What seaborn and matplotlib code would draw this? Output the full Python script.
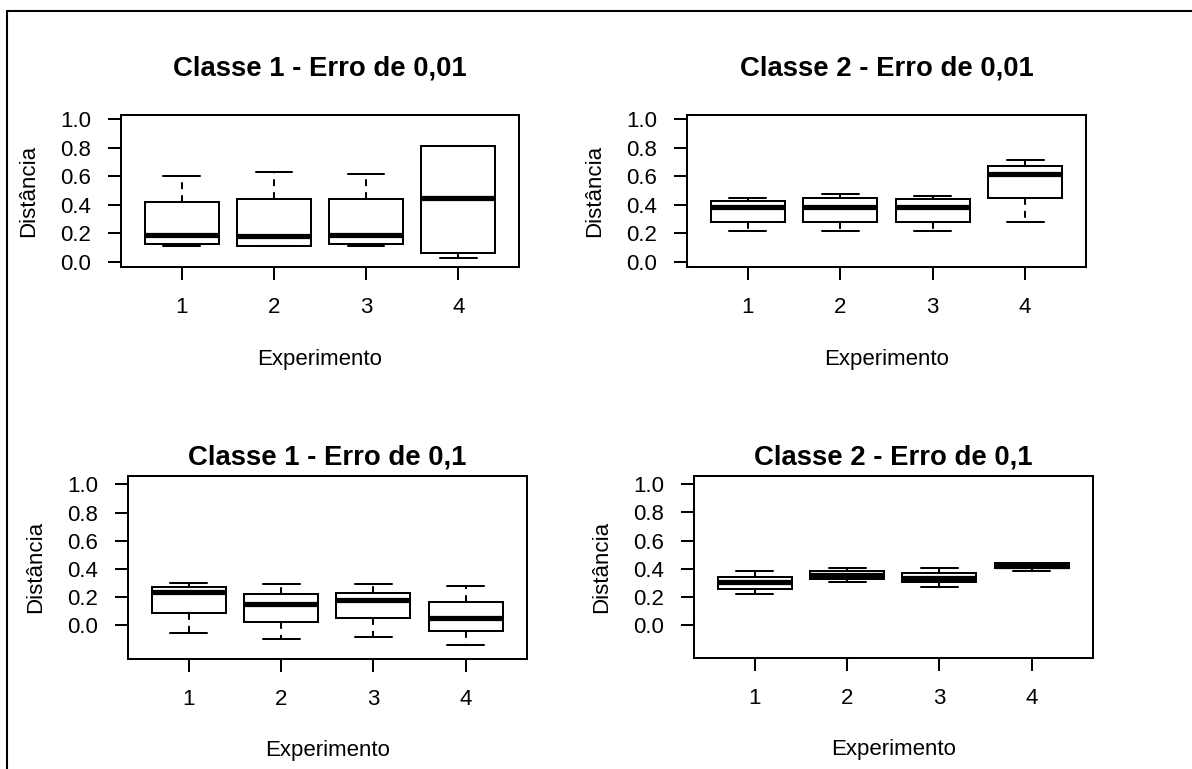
import numpy as np
import pandas as pd
import matplotlib
matplotlib.use("Agg")
import matplotlib.pyplot as plt
from matplotlib.lines import Line2D
import seaborn as sns

# ---------------- data (five-number summaries: min, Q1, median, Q3, max) ----------------
experimentos = ["1", "2", "3", "4"]

classe1_erro001 = [[0.114, 0.126, 0.185, 0.423, 0.603],
                   [0.114, 0.114, 0.182, 0.439, 0.628],
                   [0.114, 0.126, 0.189, 0.439, 0.617],
                   [0.023, 0.058, 0.449, 0.815, 0.815]]
classe2_erro001 = [[0.215, 0.280, 0.383, 0.428, 0.451],
                   [0.215, 0.280, 0.383, 0.449, 0.474],
                   [0.215, 0.280, 0.383, 0.439, 0.460],
                   [0.280, 0.449, 0.617, 0.673, 0.717]]
classe1_erro01 = [[-0.052, 0.085, 0.237, 0.270, 0.303],
                  [-0.095, 0.026, 0.152, 0.223, 0.291],
                  [-0.085, 0.052, 0.180, 0.232, 0.291],
                  [-0.140, -0.038, 0.055, 0.166, 0.277]]
classe2_erro01 = [[0.223, 0.256, 0.303, 0.339, 0.384],
                  [0.303, 0.327, 0.355, 0.384, 0.408],
                  [0.268, 0.303, 0.336, 0.372, 0.408],
                  [0.382, 0.405, 0.422, 0.438, 0.438]]

titulos = ["Classe 1 - Erro de 0,01", "Classe 2 - Erro de 0,01",
           "Classe 1 - Erro de 0,1", "Classe 2 - Erro de 0,1"]
yticks = [0.0, 0.2, 0.4, 0.6, 0.8, 1.0]
xlabel = "Experimento"
ylabel = "Distância"

# ---------------- style ----------------
sns.set_theme(style="ticks")
plt.rcParams["font.family"] = ["Liberation Sans", "DejaVu Sans"]

W, H = 1192, 769
DPI = 100
fig = plt.figure(figsize=(W / DPI, H / DPI), dpi=DPI, facecolor="white")

LW = 1.45  # ~2 px


def ax_px(left, top, right, bottom):
    return fig.add_axes([left / W, 1 - bottom / H, (right - left) / W, (bottom - top) / H])


panels = [
    (classe1_erro001, titulos[0], (121, 114.5, 519, 266.7), (-0.035, 1.035), 28.4, -0.541),
    (classe2_erro001, titulos[1], (687, 114.5, 1086, 266.7), (-0.035, 1.035), 28.4, -0.541),
    (classe1_erro01, titulos[2], (128, 475.7, 526.5, 658.7), (-0.236, 1.062), 7.9, -0.444),
    (classe2_erro01, titulos[3], (694, 475.7, 1092.5, 658.0), (-0.236, 1.062), 7.9, -0.444),
]

for resumo, titulo, box, ylim, tpad, xlab_y in panels:
    ax = ax_px(*box)
    rows = []
    for exp, vals in zip(experimentos, resumo):
        for v in vals:
            rows.append({"Experimento": exp, "Distancia": v})
    df = pd.DataFrame(rows)
    sns.boxplot(data=df, x="Experimento", y="Distancia", order=experimentos, ax=ax,
                whis=(0, 100), width=0.8, color="white", saturation=1,
                linecolor="black", linewidth=LW, showfliers=False,
                boxprops=dict(facecolor="white", edgecolor="black", linewidth=LW),
                medianprops=dict(color="black", linewidth=LW * 2.6, solid_capstyle="butt"),
                whiskerprops=dict(color="black", linewidth=LW, linestyle=(0, (3.4, 3.0))),
                capprops=dict(color="black", linewidth=LW))
    ax.set_xlim(-0.66, 3.66)
    ax.set_ylim(*ylim)
    ax.set_yticks(yticks)
    ax.set_yticklabels([f"{t:.1f}" for t in yticks])
    for s in ax.spines.values():
        s.set_visible(True)
        s.set_linewidth(LW)
        s.set_color("black")
    ax.tick_params(axis="both", which="major", length=9.7, width=LW, color="black",
                   labelsize=16, labelcolor="black", pad=11.8, direction="out")
    ax.set_title(titulo, fontsize=19.8, fontweight="bold", pad=tpad, color="black")
    ax.set_xlabel(xlabel, fontsize=16, color="black")
    ax.set_ylabel(ylabel, fontsize=16, color="black")
    ax.xaxis.set_label_coords(0.5, xlab_y)
    ax.yaxis.set_label_coords(-0.205, 0.5)
    ax.set_facecolor("white")
    ax.grid(False)

# outer frame (left and top edges)
fig.add_artist(Line2D([7.5 / W, 7.5 / W], [0, 1 - 10.5 / H], transform=fig.transFigure,
                      color="black", linewidth=1.5))
fig.add_artist(Line2D([7.5 / W, 1.0], [1 - 10.5 / H, 1 - 10.5 / H], transform=fig.transFigure,
                      color="black", linewidth=1.5))

fig.savefig("out.png", dpi=DPI, facecolor="white")
